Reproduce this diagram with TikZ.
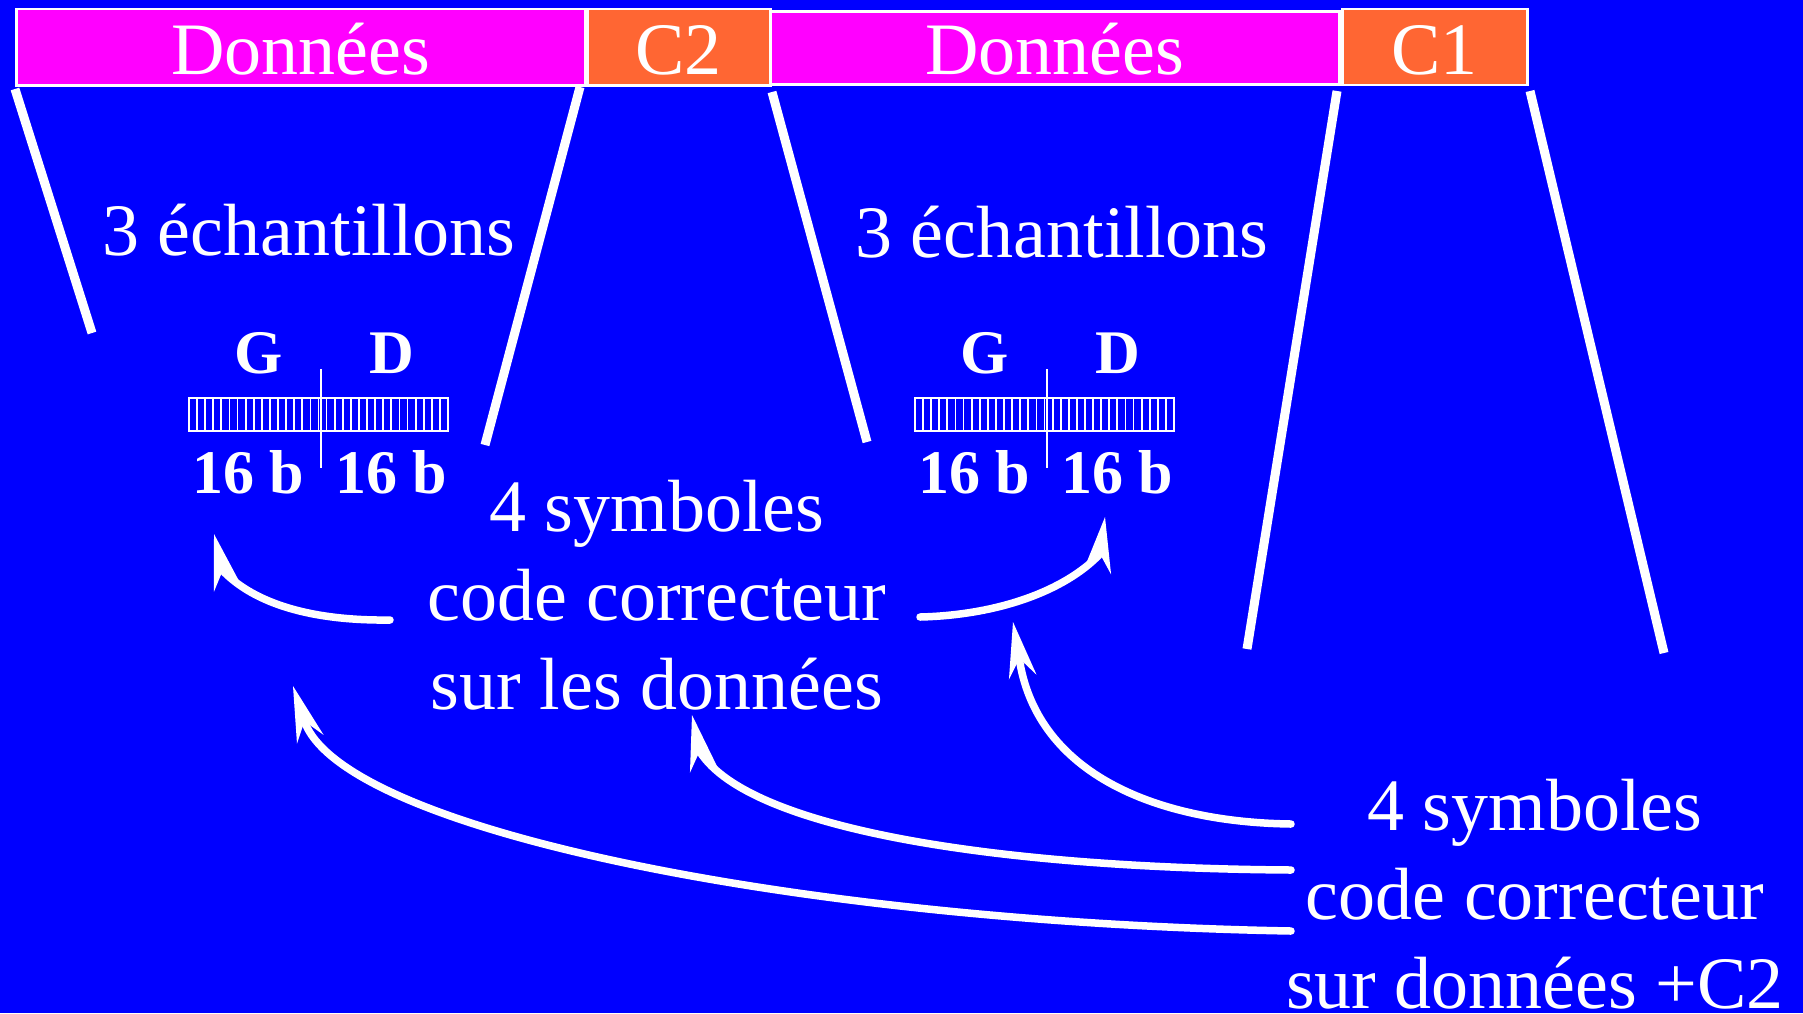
\documentclass[tikz,border=0pt]{standalone}
\usepackage{fontspec}
\setmainfont{Liberation Serif}
\usetikzlibrary{calc}
\definecolor{bgblue}{RGB}{0,0,255}
\definecolor{datamag}{RGB}{255,0,255}
\definecolor{codeor}{RGB}{255,102,51}

\begin{document}
\begin{tikzpicture}[x=1pt,y=-1pt,
  txt/.style={text=white, font=\fontsize{74}{89}\selectfont, inner sep=0pt},
  boldlab/.style={text=white, font=\fontsize{62}{70}\selectfont\bfseries, inner sep=0pt, anchor=base},
  field/.style={draw=white, line width=2.5pt, inner sep=0pt, text=white,
                font=\fontsize{74}{89}\selectfont, anchor=north west},
  fan/.style={white, line width=9pt},
  shaft/.style={white, line width=7.5pt, line cap=round},
  ahead/.pic={\fill[white] (0,0) -- (-56,14) -- (-37,0) -- (-56,-14) -- cycle;},
  samples/.pic={
    \node[boldlab] (-g) at (259,373) {G};
    \node[boldlab] (-d) at (392,373) {D};
    \draw[white, line width=2pt] (189,398) rectangle (448,431);
    \foreach \i in {1,...,31}
      \draw[white, line width=1.8pt] ({189+\i*259/32},398) -- ++(0,33);
    \draw[white, line width=2pt] (321,369) -- (321,468);
    \node[boldlab] (-l) at (248,493) {16 b};
    \node[boldlab] (-r) at (391,493) {16 b};
  }
]
\useasboundingbox (0,0) rectangle (1803,1013);
\fill[bgblue] (0,0) rectangle (1803,1013);

% frame: data fields and correction codes
\node[field, fill=datamag, minimum width=569pt, minimum height=76.5pt,
      text height=65.5pt, text depth=11pt] (d1) at (15,7.5) {Données};
\node[field, fill=codeor, minimum width=183pt, minimum height=76.5pt,
      text height=65.5pt, text depth=11pt] (c2) at (586,7.5) {C2};
\node[field, fill=datamag, minimum width=569pt, minimum height=73pt,
      text height=63pt, text depth=10pt] (d2) at (769,10) {Données};
\node[field, fill=codeor, minimum width=185pt, minimum height=76pt,
      text height=65.5pt, text depth=10.5pt] (c1) at (1341,7.5) {C1};

% expansion lines below the fields
\coordinate (f1a) at (15,89);   \coordinate (f1b) at (92,333);
\coordinate (f2a) at (580,87);  \coordinate (f2b) at (485,445);
\coordinate (f3a) at (772,92);  \coordinate (f3b) at (867,442);
\coordinate (f4a) at (1337,91); \coordinate (f4b) at (1247,649);
\coordinate (f5a) at (1530,91); \coordinate (f5b) at (1664,653);
\foreach \k in {1,...,5} \draw[fan] (f\k a) -- (f\k b);

% sample contents
\node[txt, anchor=base] (e1) at (309,255) {3 échantillons};
\node[txt, anchor=base] (e2) at (1062,257) {3 échantillons};
\pic (s1) at (0,0) {samples};
\pic (s2) at (726,0) {samples};

% correction code labels (base = baseline of the last line)
\node[txt, anchor=base, align=center] (m) at (657,709)
  {4 symboles\\code correcteur\\sur les données};
\node[txt, anchor=base, align=center] (r) at (1535,1008)
  {4 symboles\\code correcteur\\sur données +C2};

% arrows: shaft endpoints and tips
\coordinate (a0) at (390,620);  \coordinate (a1) at (224,572);  \coordinate (ta) at (214,534);
\coordinate (b0) at (920,617);  \coordinate (b1) at (1099,555); \coordinate (tb) at (1105,517);
\coordinate (c0) at (1291,824); \coordinate (c1e) at (1019,657); \coordinate (tc) at (1013,622);
\coordinate (d0) at (1291,870); \coordinate (d1e) at (700,752);  \coordinate (td) at (692,715);
\coordinate (g0) at (1291,931); \coordinate (g1) at (304,720);  \coordinate (tg) at (293,686);

\draw[shaft] (a0) .. controls (310,621) and (255,603) .. (a1);
\pic[rotate=104] at (ta) {ahead};
\draw[shaft] (b0) .. controls (1000,615) and (1065,590) .. (b1);
\pic[rotate=82] at (tb) {ahead};
\draw[shaft] (c0) .. controls (1150,822) and (1035,770) .. (c1e);
\pic[rotate=100] at (tc) {ahead};
\draw[shaft] (d0) .. controls (1000,868) and (750,830) .. (d1e);
\pic[rotate=102] at (td) {ahead};
\draw[shaft] (g0) .. controls (800,922) and (340,830) .. (g1);
\pic[rotate=108] at (tg) {ahead};
\end{tikzpicture}
\end{document}
